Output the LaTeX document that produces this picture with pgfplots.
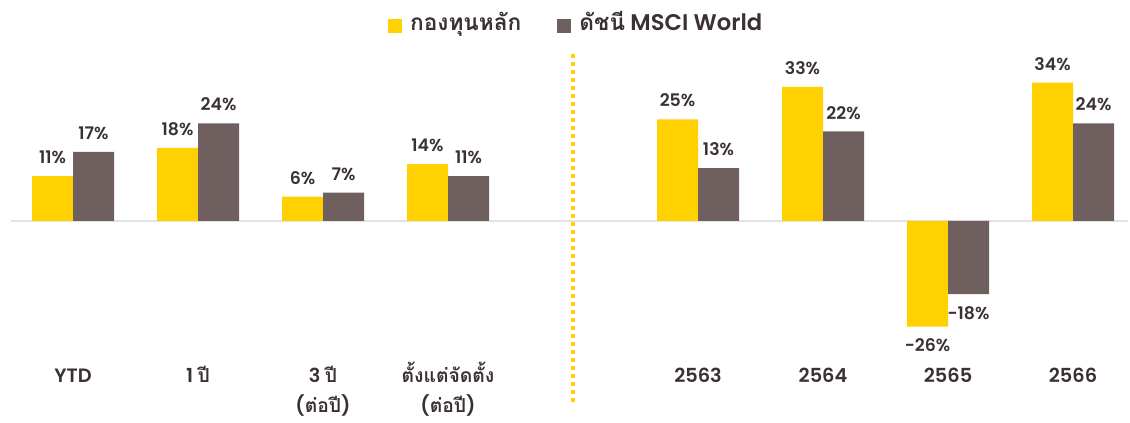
\documentclass[border=0pt]{standalone}
\usepackage{fontspec}
\usepackage{pgfplots}
\usepackage{pgfplotstable}
\pgfplotsset{compat=1.18}
\setmainfont{Poppins}[UprightFont={* SemiBold}]
\newfontfamily\thai[Script=Thai,UprightFont={* Bold}]{Loma}

\definecolor{fund}{HTML}{FFD100}
\definecolor{msci}{HTML}{6F605F}
\definecolor{txt}{HTML}{3A3133}
\definecolor{zline}{HTML}{E3E3E3}

% two-line tick label, baseline on the first line
\newcommand{\two}[2]{\begin{tabular}[t]{@{}c@{}}#1\\#2\end{tabular}}

% returns in percent; slot 4 is the gap before the calendar years
\pgfplotstableread{
x fund msci
0 11 17
1 18 24
2 6 7
3 14 11
5 25 13
6 33 22
7 -26 -18
8 34 24
}\returns

\begin{document}
\color{txt}
\begin{tikzpicture}
\begin{axis}[
    scale only axis,
    width=838.125pt, height=261.75pt,
    xmin=-0.5, xmax=8.44,
    ymin=-44.5, ymax=41.3,
    ybar=0pt, bar width=30.75pt,
    axis line style={draw=none},
    major tick length=0pt,
    ytick=\empty,
    xtick={0,...,8},
    xticklabels={YTD, 1 {\thai ปี}, {\two{3 {\thai ปี}}{({\thai ต่อปี})}},
        {\two{\thai ตั้งแต่จัดตั้ง}{({\thai ต่อปี})}}, {}, 2563, 2564, 2565, 2566},
    xticklabel style={font=\fontsize{14.5}{22.5}\selectfont,
        anchor=base, yshift=14.25pt},
    nodes near coords={\pgfmathprintnumber[fixed,precision=0,assume math mode=true]{\pgfplotspointmeta}\%},
    every node near coord/.append style={font=\fontsize{13}{15}\selectfont,
        inner ysep=9pt, inner xsep=0pt},
    legend style={at={(0.5065,1.089)}, anchor=center, draw=none, fill=none,
        legend columns=2, font=\fontsize{17}{19}\selectfont,
        /tikz/every odd column/.append style={column sep=4pt},
        /tikz/every even column/.append style={column sep=25pt}},
    legend image code/.code={\fill[#1] (0pt,-8.5pt) rectangle (10.5pt,2pt);},
]
\draw[zline, line width=1pt] (axis cs:-0.5,0) -- (axis cs:8.44,0);
\addplot[fill=fund, draw=none] table[x=x, y=fund] {\returns};
\addlegendentry{{\thai กองทุนหลัก}}
\addplot[fill=msci, draw=none] table[x=x, y=msci] {\returns};
\addlegendentry{{\thai ดัชนี} MSCI World}
\draw[fund, line width=3pt, dash pattern=on 3pt off 3pt] (axis cs:4,-44.5) -- (axis cs:4,41.3);
\end{axis}
\pgfresetboundingbox
\path ([xshift=-7.875pt,yshift=-15.75pt]current axis.south west)
    rectangle ([xshift=1.5pt,yshift=39.75pt]current axis.north east);
\end{tikzpicture}
\end{document}
